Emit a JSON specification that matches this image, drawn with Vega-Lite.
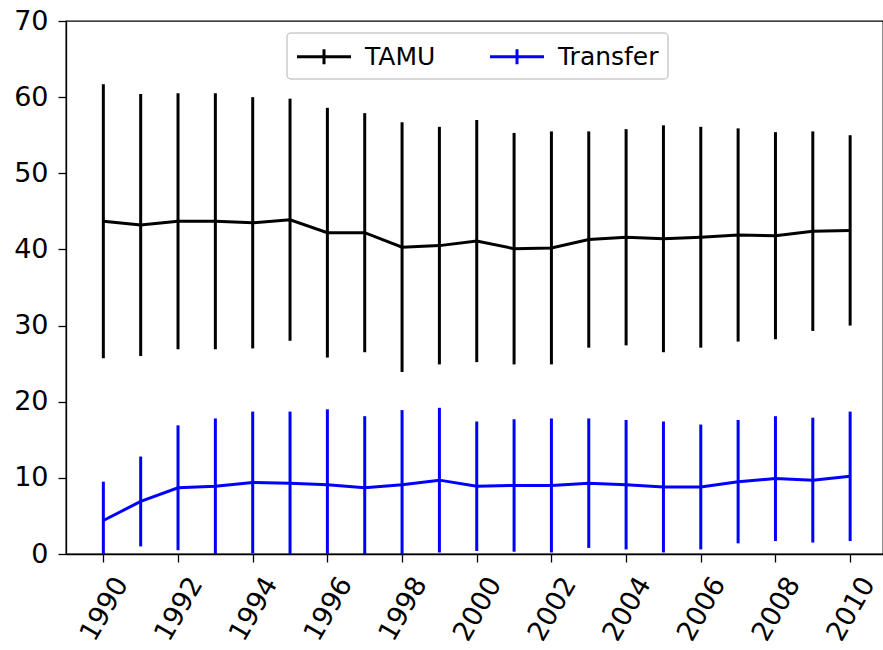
{
  "$schema": "https://vega.github.io/schema/vega-lite/v6.json",
  "width": 817,
  "height": 533,
  "autosize": {"type": "none"},
  "padding": {"left": 66, "top": 21, "right": 0, "bottom": 96},
  "config": {
    "font": "DejaVu Sans",
    "view": {"stroke": "black", "strokeWidth": 1.3},
    "axis": {
      "grid": false,
      "domainColor": "black",
      "domainWidth": 1.3,
      "tickColor": "black",
      "tickWidth": 1.3,
      "tickSize": 8,
      "labelColor": "black",
      "labelFont": "DejaVu Sans",
      "labelFontSize": 27,
      "title": null
    }
  },
  "data": {
    "values": [
      {"year": 1990, "group": "TAMU", "mean": 43.7, "lo": 25.7, "hi": 61.7},
      {"year": 1991, "group": "TAMU", "mean": 43.2, "lo": 26.0, "hi": 60.4},
      {"year": 1992, "group": "TAMU", "mean": 43.7, "lo": 26.9, "hi": 60.5},
      {"year": 1993, "group": "TAMU", "mean": 43.7, "lo": 26.9, "hi": 60.5},
      {"year": 1994, "group": "TAMU", "mean": 43.5, "lo": 27.0, "hi": 60.0},
      {"year": 1995, "group": "TAMU", "mean": 43.9, "lo": 28.0, "hi": 59.8},
      {"year": 1996, "group": "TAMU", "mean": 42.2, "lo": 25.8, "hi": 58.6},
      {"year": 1997, "group": "TAMU", "mean": 42.2, "lo": 26.5, "hi": 57.9},
      {"year": 1998, "group": "TAMU", "mean": 40.3, "lo": 23.9, "hi": 56.7},
      {"year": 1999, "group": "TAMU", "mean": 40.5, "lo": 24.9, "hi": 56.1},
      {"year": 2000, "group": "TAMU", "mean": 41.1, "lo": 25.2, "hi": 57.0},
      {"year": 2001, "group": "TAMU", "mean": 40.1, "lo": 24.9, "hi": 55.3},
      {"year": 2002, "group": "TAMU", "mean": 40.2, "lo": 24.9, "hi": 55.5},
      {"year": 2003, "group": "TAMU", "mean": 41.3, "lo": 27.1, "hi": 55.5},
      {"year": 2004, "group": "TAMU", "mean": 41.6, "lo": 27.4, "hi": 55.8},
      {"year": 2005, "group": "TAMU", "mean": 41.4, "lo": 26.5, "hi": 56.3},
      {"year": 2006, "group": "TAMU", "mean": 41.6, "lo": 27.1, "hi": 56.1},
      {"year": 2007, "group": "TAMU", "mean": 41.9, "lo": 27.9, "hi": 55.9},
      {"year": 2008, "group": "TAMU", "mean": 41.8, "lo": 28.2, "hi": 55.4},
      {"year": 2009, "group": "TAMU", "mean": 42.4, "lo": 29.3, "hi": 55.5},
      {"year": 2010, "group": "TAMU", "mean": 42.5, "lo": 30.0, "hi": 55.0},
      {"year": 1990, "group": "Transfer", "mean": 4.4, "lo": -0.7, "hi": 9.5},
      {"year": 1991, "group": "Transfer", "mean": 6.9, "lo": 1.0, "hi": 12.8},
      {"year": 1992, "group": "Transfer", "mean": 8.7, "lo": 0.5, "hi": 16.9},
      {"year": 1993, "group": "Transfer", "mean": 8.9, "lo": 0.0, "hi": 17.8},
      {"year": 1994, "group": "Transfer", "mean": 9.4, "lo": 0.1, "hi": 18.7},
      {"year": 1995, "group": "Transfer", "mean": 9.3, "lo": -0.1, "hi": 18.7},
      {"year": 1996, "group": "Transfer", "mean": 9.1, "lo": -0.8, "hi": 19.0},
      {"year": 1997, "group": "Transfer", "mean": 8.7, "lo": -0.7, "hi": 18.1},
      {"year": 1998, "group": "Transfer", "mean": 9.1, "lo": -0.7, "hi": 18.9},
      {"year": 1999, "group": "Transfer", "mean": 9.7, "lo": 0.2, "hi": 19.2},
      {"year": 2000, "group": "Transfer", "mean": 8.9, "lo": 0.4, "hi": 17.4},
      {"year": 2001, "group": "Transfer", "mean": 9.0, "lo": 0.3, "hi": 17.7},
      {"year": 2002, "group": "Transfer", "mean": 9.0, "lo": 0.2, "hi": 17.8},
      {"year": 2003, "group": "Transfer", "mean": 9.3, "lo": 0.8, "hi": 17.8},
      {"year": 2004, "group": "Transfer", "mean": 9.1, "lo": 0.6, "hi": 17.6},
      {"year": 2005, "group": "Transfer", "mean": 8.8, "lo": 0.2, "hi": 17.4},
      {"year": 2006, "group": "Transfer", "mean": 8.8, "lo": 0.6, "hi": 17.0},
      {"year": 2007, "group": "Transfer", "mean": 9.5, "lo": 1.4, "hi": 17.6},
      {"year": 2008, "group": "Transfer", "mean": 9.9, "lo": 1.7, "hi": 18.1},
      {"year": 2009, "group": "Transfer", "mean": 9.7, "lo": 1.5, "hi": 17.9},
      {"year": 2010, "group": "Transfer", "mean": 10.2, "lo": 1.7, "hi": 18.7}
    ]
  },
  "encoding": {
    "x": {
      "field": "year",
      "type": "quantitative",
      "title": null,
      "scale": {"domain": [1989, 2010.88], "nice": false, "zero": false},
      "axis": {
        "values": [1990, 1992, 1994, 1996, 1998, 2000, 2002, 2004, 2006, 2008, 2010],
        "format": "d",
        "labelAngle": -60,
        "labelAlign": "right",
        "labelBaseline": "middle",
        "labelOffset": 18,
        "labelPadding": 17,
        "labelFlush": false,
        "labelOverlap": false,
        "labelBound": false
      }
    },
    "color": {
      "field": "group",
      "type": "nominal",
      "scale": {"domain": ["TAMU", "Transfer"], "range": ["black", "blue"]},
      "legend": {
        "title": null,
        "orient": "none",
        "legendX": 221,
        "legendY": 12,
        "direction": "horizontal",
        "symbolType": "M-2,0H2M0,-0.55V0.55",
        "symbolSize": 729,
        "symbolOffset": 13.5,
        "symbolStrokeWidth": 3,
        "symbolFillColor": "transparent",
        "labelFontSize": 25,
        "labelFont": "DejaVu Sans",
        "labelColor": "black",
        "labelOffset": 26,
        "columnPadding": 48,
        "padding": 8.5,
        "strokeColor": "#cccccc",
        "cornerRadius": 4,
        "fillColor": "white",
        "encode": {"legend": {"update": {"strokeWidth": {"value": 1.5}}}}
      }
    }
  },
  "layer": [
    {
      "mark": {"type": "line", "strokeWidth": 3, "clip": true},
      "encoding": {
        "y": {
          "field": "mean",
          "type": "quantitative",
          "title": null,
          "scale": {"domain": [0, 70], "nice": false},
          "axis": {"values": [0, 10, 20, 30, 40, 50, 60, 70], "labelPadding": 10}
        }
      }
    },
    {
      "mark": {"type": "rule", "strokeWidth": 3, "clip": true},
      "encoding": {
        "y": {"field": "lo", "type": "quantitative"},
        "y2": {"field": "hi"}
      }
    }
  ]
}
